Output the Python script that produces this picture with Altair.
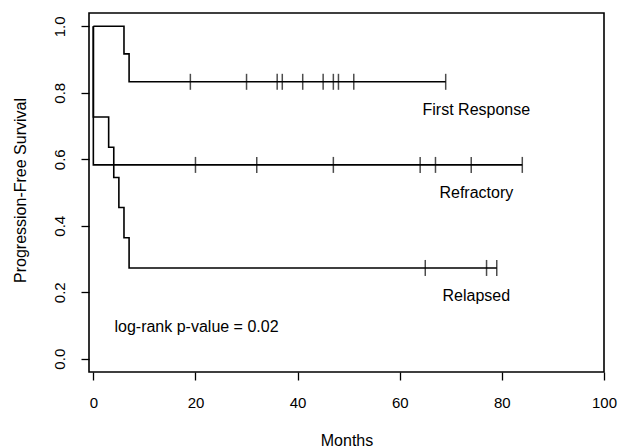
import altair as alt
import pandas as pd

# Kaplan-Meier step points per group (time in months, survival)
groups = ["First Response", "Refractory", "Relapsed"]
fr_times = [0, 6, 7, 69]
fr_surv = [1.0, 0.917, 0.833, 0.833]
ref_times = [0, 0, 84]
ref_surv = [1.0, 0.583, 0.583]
rel_times = [0, 0, 3, 4, 5, 6, 7, 79]
rel_surv = [1.0, 0.727, 0.636, 0.545, 0.455, 0.364, 0.273, 0.273]

# censoring marks
fr_cens = [19, 30, 36, 37, 41, 45, 47, 48, 51, 69]
fr_cens_s = [0.833] * len(fr_cens)
ref_cens = [20, 32, 47, 64, 67, 74, 84]
ref_cens_s = [0.583] * len(ref_cens)
rel_cens = [65, 77, 79]
rel_cens_s = [0.273] * len(rel_cens)

# annotations
label_text = ["First Response", "Refractory", "Relapsed", "log-rank p-value = 0.02"]
label_x = [75, 75, 75, 20.2]
label_y = [0.734, 0.482, 0.175, 0.08]

x_ticks = [0, 20, 40, 60, 80, 100]
y_ticks = [0.0, 0.2, 0.4, 0.6, 0.8, 1.0]

FONT = "Liberation Sans"

rows = []
for g, ts, ss in zip(groups, [fr_times, ref_times, rel_times], [fr_surv, ref_surv, rel_surv]):
    for i, (t, s) in enumerate(zip(ts, ss)):
        rows.append({"group": g, "idx": i, "t": t, "s": s})
steps = pd.DataFrame(rows)

crows = []
for g, ts, ss in zip(groups, [fr_cens, ref_cens, rel_cens], [fr_cens_s, ref_cens_s, rel_cens_s]):
    for t, s in zip(ts, ss):
        crows.append({"group": g, "t": t, "s": s})
cens = pd.DataFrame(crows)

labels = pd.DataFrame({"label": label_text, "t": label_x, "s": label_y})

xscale = alt.Scale(domain=[-0.85, 100], nice=False, zero=False)
yscale = alt.Scale(domain=[-0.04, 1.04], nice=False, zero=False)

xaxis = alt.Axis(
    values=x_ticks, title="Months", grid=False, domain=False,
    tickColor="black", tickSize=8, tickWidth=1.3,
    labelFont=FONT, labelFontSize=15, labelColor="black", labelPadding=15,
    labelFlush=False, labelOverlap=False, labelBaseline="top",
    titleFont=FONT, titleFontSize=16, titleFontWeight="normal", titleColor="black",
    titleY=73, titleBaseline="alphabetic",
)
yaxis = alt.Axis(
    values=y_ticks, format=".1f", title="Progression-Free Survival", grid=False, domain=False,
    tickColor="black", tickSize=8, tickWidth=1.3,
    labelFont=FONT, labelFontSize=15, labelColor="black", labelPadding=17,
    labelAngle=270, labelAlign="center", labelBaseline="alphabetic",
    labelFlush=False, labelOverlap=False,
    titleFont=FONT, titleFontSize=16, titleFontWeight="normal", titleColor="black",
    titleAngle=270, titleAlign="center", titleBaseline="alphabetic",
    titleX=-64, titleY=177,
)

X = alt.X("t:Q", scale=xscale, axis=xaxis)
Y = alt.Y("s:Q", scale=yscale, axis=yaxis)

lines = alt.Chart(steps).mark_line(
    interpolate="step-after", color="black", strokeWidth=1.6
).encode(x=X, y=Y, detail="group:N", order="idx:Q")

ticks = alt.Chart(cens).mark_tick(
    orient="vertical", color="black", size=16, thickness=1.5
).encode(x=X, y=Y)

texts = alt.Chart(labels).mark_text(
    font=FONT, fontSize=16, color="black", align="center", baseline="alphabetic"
).encode(x=X, y=Y, text="label:N")

chart = alt.layer(lines, ticks, texts).properties(
    width=515, height=359,
    autosize=alt.AutoSizeParams(type="none"),
    padding={"left": 89, "top": 13, "right": 16, "bottom": 76},
    background="white",
).configure_view(stroke="black", strokeWidth=1.6, fill="white")

chart.save("out.html", embed_options={"renderer": "svg", "actions": False})
